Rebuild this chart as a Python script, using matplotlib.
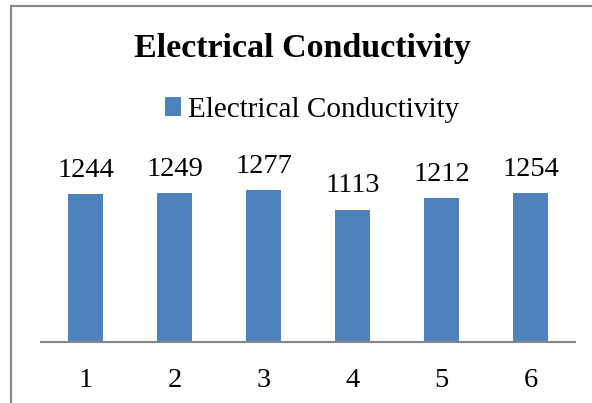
import matplotlib
matplotlib.use("Agg")
import matplotlib.pyplot as plt
from matplotlib.lines import Line2D
from matplotlib.patches import Patch

categories = ["1", "2", "3", "4", "5", "6"]
conductivity = [1244, 1249, 1277, 1113, 1212, 1254]
series_name = "Electrical Conductivity"
title = "Electrical Conductivity"

plt.rcParams["font.family"] = ["Liberation Serif", "DejaVu Serif"]
bar_color = "#4F81BD"

W, H = 592, 403
fig = plt.figure(figsize=(W / 100, H / 100), dpi=100)

# chart frame (left and top edges visible)
fig.add_artist(Line2D([11 / W, 11 / W], [0, 1 - 6 / H], color="#868686", lw=1.5))
fig.add_artist(Line2D([11 / W, 1], [1 - 6 / H, 1 - 6 / H], color="#868686", lw=1.5))

ax_left, ax_right = 41 / W, 575 / W
ax_bottom, ax_top = 1 - 342 / H, 1 - 175.4 / H
ax = fig.add_axes([ax_left, ax_bottom, ax_right - ax_left, ax_top - ax_bottom])

x = list(range(len(categories)))
bars = ax.bar(x, conductivity, width=0.40, color=bar_color, zorder=2)
ax.set_xlim(-0.5, len(categories) - 0.5)
ax.set_ylim(0, 1400)

for rect, v in zip(bars, conductivity):
    ax.annotate(f"{v}", (rect.get_x() + rect.get_width() / 2, v),
                xytext=(0, 8), textcoords="offset points",
                ha="center", va="bottom", fontsize=20.5)

for s in ["left", "right", "top"]:
    ax.spines[s].set_visible(False)
ax.spines["bottom"].set_color("#868686")
ax.spines["bottom"].set_linewidth(1.5)
ax.set_yticks([])
ax.set_xticks(x)
ax.set_xticklabels(categories, fontsize=20.5)
ax.tick_params(axis="x", length=0, pad=19)

fig.text(302 / W, 1 - 48 / H, title, ha="center", va="center",
         fontsize=24.5, fontweight="bold")

fig.legend(handles=[Patch(facecolor=bar_color, label=series_name)],
           loc="center", bbox_to_anchor=(312 / W, 1 - 110 / H),
           frameon=False, fontsize=21, handlelength=0.55, handleheight=0.6,
           handletextpad=0.25)

fig.savefig("out.png", dpi=100)
